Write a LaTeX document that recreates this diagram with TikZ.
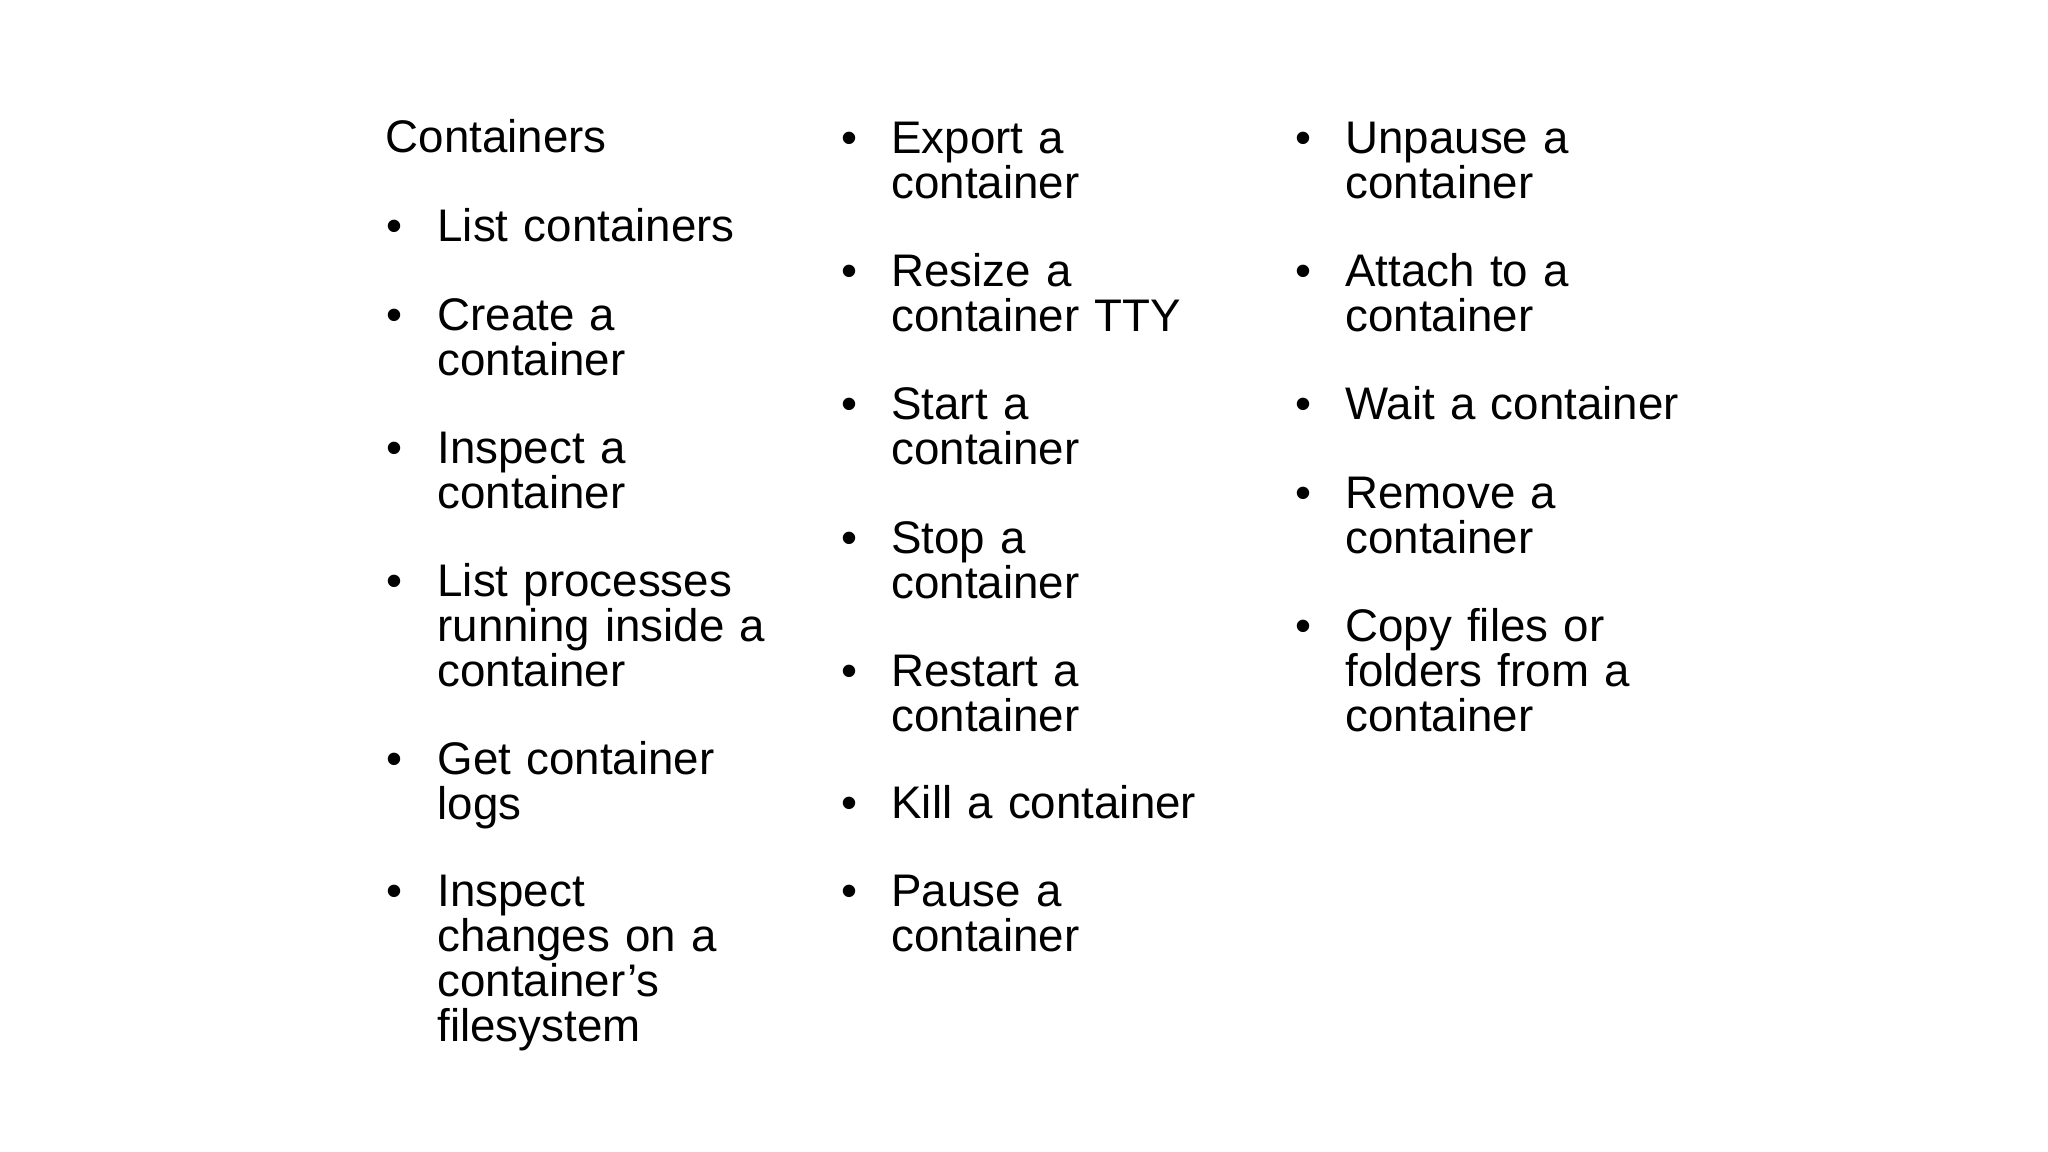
\documentclass[tikz,border=0pt]{standalone}
\usepackage{fontspec}
\setmainfont{Liberation Sans}
\begin{document}
\begin{tikzpicture}[x=1cm,y=1cm,
  itemtext/.style={anchor=base west, inner sep=0pt, text width=5cm, align=left,
    font=\fontsize{13pt}{12.8pt}\selectfont},
  bulletdot/.style={anchor=base west, inner sep=0pt, font=\fontsize{13pt}{12.8pt}\selectfont}]

\useasboundingbox (0,0) rectangle (20.48,-11.52);

\node[itemtext] (title) at (3.85,-1.53) {Containers};

% column one
\foreach \i/\y/\t in {1/2.257/List containers,
                      2/3.141/{Create a\\container},
                      3/4.473/{Inspect a\\container},
                      4/5.806/{List processes\\running inside a\\container},
                      5/7.588/{Get container\\logs},
                      6/8.907/{Inspect\\changes on a\\container's\\filesystem}}{
  \node[bulletdot] (ba\i) at (3.86,-\y-0.16) {•};
  \node[itemtext] (a\i) at (4.368,-\y-0.16) {\t};
}

% column two
\foreach \i/\y/\t in {1/1.372/{Export a\\container},
                      2/2.705/{Resize a\\container TTY},
                      3/4.038/{Start a\\container},
                      4/5.371/{Stop a\\container},
                      5/6.704/{Restart a\\container},
                      6/8.023/Kill a container,
                      7/8.907/{Pause a\\container}}{
  \node[bulletdot] (bb\i) at (8.41,-\y-0.16) {•};
  \node[itemtext] (b\i) at (8.907,-\y-0.16) {\t};
}

% column three
\foreach \i/\y/\t in {1/1.372/{Unpause a\\container},
                      2/2.705/{Attach to a\\container},
                      3/4.038/Wait a container,
                      4/4.922/{Remove a\\container},
                      5/6.255/{Copy files or\\folders from a\\container}}{
  \node[bulletdot] (bc\i) at (12.95,-\y-0.16) {•};
  \node[itemtext] (c\i) at (13.447,-\y-0.16) {\t};
}
\end{tikzpicture}
\end{document}
